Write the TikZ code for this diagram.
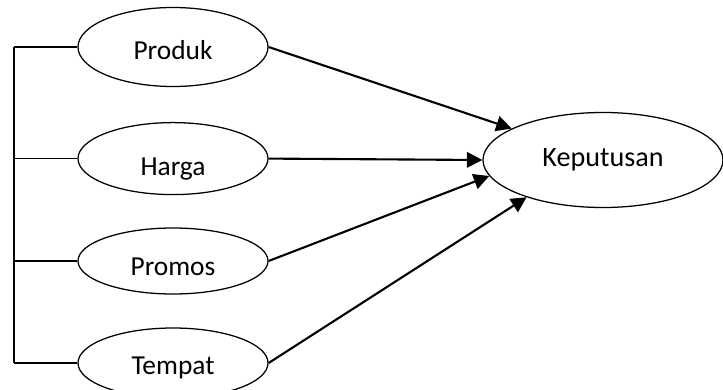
\documentclass[tikz,border=0pt]{standalone}
\usepackage{fontspec}
\setmainfont{Carlito}
\usetikzlibrary{shapes.geometric,arrows.meta}

\tikzset{
  faktor/.style={ellipse, draw, line width=0.9pt, inner sep=0pt,
    minimum width=4.75cm, text height=18pt, text depth=0pt,
    font=\fontsize{19.5}{23}\selectfont},
  hasil/.style={ellipse, draw, line width=0.9pt, inner sep=0pt,
    minimum width=6cm, minimum height=2.375cm,
    font=\fontsize{20}{24}\selectfont},
  garis/.style={line width=0.9pt},
  panah/.style={line width=1.5pt, -{Triangle[length=11pt,width=11pt]}}
}

\begin{document}
\begin{tikzpicture}
			%%%%% START %%%%%
			
			\useasboundingbox (0, 0) rectangle (18.075, 9.725);
			
			\node[faktor, minimum height=1.975cm] (produk) at (4.325, 8.55) {Produk};
			\node[faktor, minimum height=1.8cm, text height=23.5pt] (harga) at (4.325, 5.76) {Harga};
			\node[faktor, minimum height=1.65cm, text height=21pt] (promos) at (4.325, 3.2) {Promos};
			\node[faktor, minimum height=1.75cm, text height=16.5pt] (tempat) at (4.325, 0.65) {Tempat};
			
			\node[hasil] (keputusan) at (15.075, 5.725) {Keputusan};
			
			\coordinate (kiri) at (0.35, 0);
			\draw[garis] (produk.west -| kiri) -- (tempat.west -| kiri);
			\draw[garis] (produk.west) -- (produk.west -| kiri);
			\draw[garis] (harga.west) -- (harga.west -| kiri);
			\draw[garis] (promos.west) -- (promos.west -| kiri);
			\draw[garis] (tempat.west) -- (tempat.west -| kiri);
			
			\draw[panah] (produk.east) -- (keputusan.161);
			\draw[panah] (harga.east) -- (keputusan.west);
			\draw[panah] (promos.east) -- (keputusan.188);
			\draw[panah] (tempat.east) -- (keputusan.206);
			
			%%%%% END %%%%%
		\end{tikzpicture}
\end{document}
